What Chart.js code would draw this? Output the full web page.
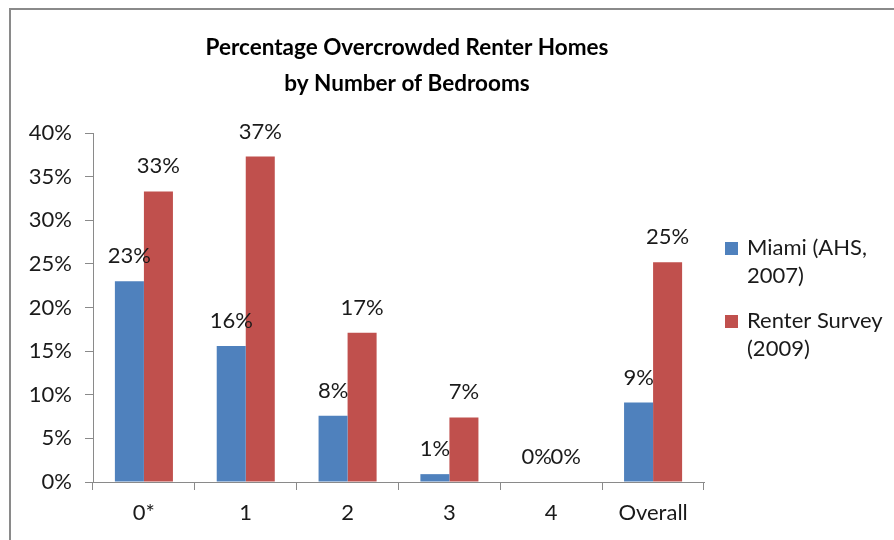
<!DOCTYPE html>
<html>
<head>
<meta charset="utf-8">
<script src="https://cdn.jsdelivr.net/npm/chart.js@4.4.1/dist/chart.umd.min.js"></script>
<style>
  html, body { margin: 0; padding: 0; background: #fff; overflow: hidden; }
  #wrap { position: relative; width: 894px; height: 540px; }
  #frame { position: absolute; left: 9px; top: 8px; right: -10px; bottom: -10px;
           border-top: 2px solid #8a8a8a; border-left: 2px solid #8a8a8a; pointer-events: none; }
  canvas { position: absolute; left: 0; top: 0; }
</style>
</head>
<body>
<div id="wrap">
  <canvas id="chartCanvas" width="894" height="540"></canvas>
  <div id="frame"></div>
</div>
<script>
const categories = ["0*", "1", "2", "3", "4", "Overall"];
const miamiValues = [23.0, 15.6, 7.6, 0.9, 0, 9.1];
const surveyValues = [33.3, 37.3, 17.1, 7.4, 0, 25.2];
const seriesNames = [["Miami (AHS,", "2007)"], ["Renter Survey", "(2009)"]];
const titleLines = ["Percentage Overcrowded Renter Homes", "by Number of Bedrooms"];
const yTicks = [0, 5, 10, 15, 20, 25, 30, 35, 40];

const fontFamily = "Lato, 'Open Sans', sans-serif";
const textColor = "#1a1a1a";

// title drawn by hand so it can sit off the plot centre like the original
const chartTitle = {
  id: "chartTitle",
  afterDraw(chart) {
    const ctx = chart.ctx;
    ctx.save();
    ctx.font = "bold 22.5px " + fontFamily;
    ctx.fillStyle = "#000";
    ctx.textAlign = "center";
    ctx.textBaseline = "middle";
    titleLines.forEach((line, i) => ctx.fillText(line, 407, 48 + i * 36));
    ctx.restore();
  }
};

// value labels above each bar
const barLabels = {
  id: "barLabels",
  afterDatasetsDraw(chart) {
    const ctx = chart.ctx;
    ctx.save();
    ctx.font = "22px " + fontFamily;
    ctx.fillStyle = textColor;
    ctx.textAlign = "center";
    ctx.textBaseline = "alphabetic";
    chart.data.datasets.forEach((ds, i) => {
      chart.getDatasetMeta(i).data.forEach((bar, j) => {
        ctx.fillText(Math.round(ds.data[j]) + "%", bar.x, bar.y - 18);
      });
    });
    ctx.restore();
  }
};

// two-line legend on the right
const sideLegend = {
  id: "sideLegend",
  afterDraw(chart) {
    const ctx = chart.ctx;
    const x = 725;
    const tops = [248, 321];
    ctx.save();
    ctx.font = "22px " + fontFamily;
    ctx.textBaseline = "middle";
    chart.data.datasets.forEach((ds, i) => {
      ctx.fillStyle = ds.backgroundColor;
      ctx.fillRect(x, tops[i] - 6, 13, 13);
      ctx.fillStyle = textColor;
      seriesNames[i].forEach((line, k) => {
        ctx.fillText(line, x + 22, tops[i] + k * 28);
      });
    });
    ctx.restore();
  }
};

const chart = new Chart(document.getElementById("chartCanvas"), {
  type: "bar",
  data: {
    labels: categories,
    datasets: [
      { label: "Miami (AHS, 2007)", data: miamiValues, backgroundColor: "#4F81BD",
        categoryPercentage: 0.57, barPercentage: 1.0 },
      { label: "Renter Survey (2009)", data: surveyValues, backgroundColor: "#C0504D",
        categoryPercentage: 0.57, barPercentage: 1.0 }
    ]
  },
  options: {
    responsive: false,
    animation: false,
    layout: { padding: { left: 0, right: 190, top: 133, bottom: 0 } },
    plugins: {
      legend: { display: false },
      tooltip: { enabled: false },
      title: { display: false }
    },
    scales: {
      x: {
        grid: { display: true, drawOnChartArea: false, drawTicks: true, tickLength: 8,
                color: "#8a8a8a", offset: true },
        border: { color: "#8a8a8a", width: 1 },
        ticks: { color: textColor, font: { family: fontFamily, size: 22 }, padding: 10 },
        afterFit(scale) { scale.height = 58; }
      },
      y: {
        min: 0,
        max: 40,
        afterBuildTicks(scale) { scale.ticks = yTicks.map(v => ({ value: v })); },
        grid: { drawOnChartArea: false, drawTicks: true, tickLength: 8, color: "#8a8a8a" },
        border: { color: "#8a8a8a", width: 1 },
        ticks: { color: textColor, font: { family: fontFamily, size: 22 }, padding: 13,
                 callback: v => v + "%" },
        afterFit(scale) { scale.width = 93; }
      }
    }
  },
  plugins: [chartTitle, barLabels, sideLegend]
});
</script>
</body>
</html>
